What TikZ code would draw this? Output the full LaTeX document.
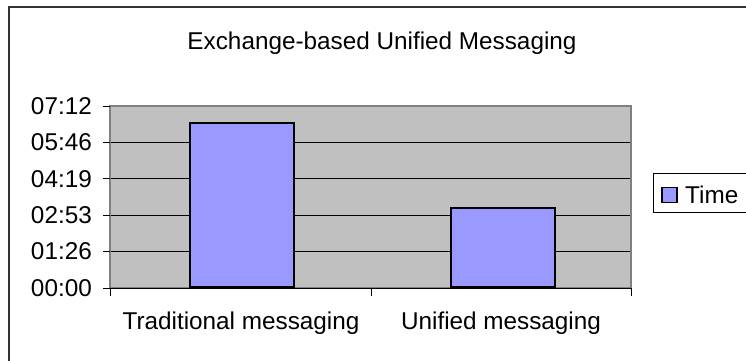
\documentclass[tikz,border=0pt]{standalone}
\usepackage{fontspec}
\setmainfont{Liberation Sans}
\definecolor{plotgray}{HTML}{C0C0C0}
\definecolor{plotborder}{HTML}{808080}
\definecolor{barblue}{HTML}{9999FF}
\definecolor{framegray}{HTML}{333333}
\begin{document}
\begin{tikzpicture}[x=1pt,y=-1pt,
  lbl/.style={font=\fontsize{24.3}{27}\selectfont, inner sep=0pt},
  ylbl/.style={lbl, anchor=east},
  bar/.style={draw=black, fill=barblue, line width=2.2pt},
  grid/.style={draw=black, line width=0.9pt},
  tick/.style={draw=black, line width=0.9pt}]
\useasboundingbox (0,0) rectangle (746,360);
\clip (0,0) rectangle (746,360);
% outer frame
\draw[framegray, line width=1.4pt] (9,7) rectangle (760,380);
% title
\node[lbl] (title) at (382,43) {Exchange-based Unified Messaging};
% plot area
\fill[plotgray] (110,106) rectangle (631,288);
\foreach \i/\t in {0/00:00,1/01:26,2/02:53,3/04:19,4/05:46,5/07:12}{
  \coordinate (gl\i) at (110,{288-36.4*\i});
  \coordinate (gr\i) at (631,{288-36.4*\i});
  \coordinate (gt\i) at (103,{288-36.4*\i});
  \node[ylbl] (yl\i) at (92,{288-36.4*\i}) {\t};
}
\foreach \i in {1,2,3,4}{ \draw[grid] (gl\i) -- (gr\i); }
\draw[plotborder, line width=2pt] (110,106) rectangle (631,288);
\foreach \i in {0,1,2,3,4,5}{ \draw[tick] (gt\i) -- (gl\i); }
% bars
\node[bar, minimum width=104pt, minimum height=164pt, anchor=south west, inner sep=0pt] (b1) at (189,288) {};
\node[bar, minimum width=104pt, minimum height=79pt, anchor=south west, inner sep=0pt] (b2) at (450,288) {};
% x axis
\coordinate (xa) at (110,288);
\coordinate (xb) at (371,288);
\coordinate (xc) at (631,288);
\draw[black, line width=1pt] (xa) -- (xc);
\foreach \c in {xa,xb,xc}{ \draw[tick] (\c) -- ++(0,8); }
% category labels
\node[lbl] (c1) at (241,323) {Traditional messaging};
\node[lbl] (c2) at (501,323) {Unified messaging};
% legend
\node[draw=black, line width=0.9pt, minimum width=120pt, minimum height=39pt, anchor=north west, inner sep=0pt] (leg) at (653,173) {};
\node[draw=black, fill=barblue, line width=1.5pt, minimum size=15pt, inner sep=0pt] (legm) at (669.5,195) {};
\node[lbl, anchor=west] (legt) at (685,195) {Time};
\end{tikzpicture}
\end{document}
